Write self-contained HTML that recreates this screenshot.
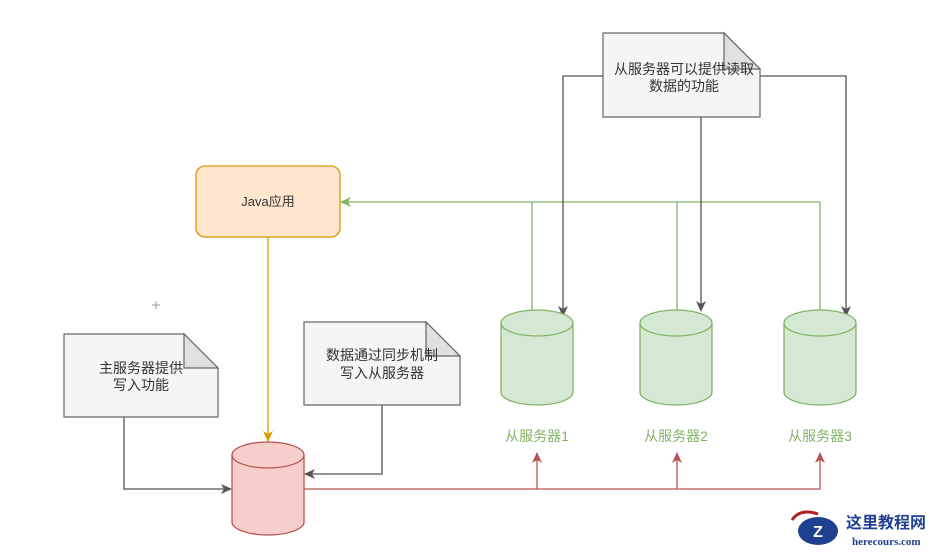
<!DOCTYPE html>
<html><head><meta charset="utf-8"><style>
html,body{margin:0;padding:0;background:#fff;}
svg text{font-family:"Liberation Sans","Noto Sans CJK SC",sans-serif;font-size:14px;}
</style></head><body>
<svg width="936" height="552" viewBox="0 0 936 552" xmlns="http://www.w3.org/2000/svg">
<defs>
<marker id="ag" markerWidth="12" markerHeight="12" refX="10" refY="6" orient="auto" markerUnits="userSpaceOnUse"><path d="M0,1 L11,6 L0,11 L3,6 Z" fill="#82b366"/></marker>
<marker id="ao" markerWidth="12" markerHeight="12" refX="10" refY="6" orient="auto" markerUnits="userSpaceOnUse"><path d="M0,1 L11,6 L0,11 L3,6 Z" fill="#d79b00"/></marker>
<marker id="ar" markerWidth="12" markerHeight="12" refX="10" refY="6" orient="auto" markerUnits="userSpaceOnUse"><path d="M0,1 L11,6 L0,11 L3,6 Z" fill="#b85450"/></marker>
<marker id="ak" markerWidth="12" markerHeight="12" refX="10" refY="6" orient="auto" markerUnits="userSpaceOnUse"><path d="M0,1 L11,6 L0,11 L3,6 Z" fill="#555"/></marker>
</defs>
<path d="M152,305 h8 M156,301 v8" stroke="#999" stroke-width="1"/>
<g fill="none" stroke="#82b366" stroke-width="1.3">
<path d="M532,310 V202 M677,310 V202 M820,310 V202 H341" marker-end="url(#ag)"/>
</g>
<g fill="none" stroke="#555" stroke-width="1.3">
<path d="M603,76 H563 V316" marker-end="url(#ak)"/>
<path d="M701,117 V311" marker-end="url(#ak)"/>
<path d="M760,76 H846 V316" marker-end="url(#ak)"/>
<path d="M124,417 V489 H231" marker-end="url(#ak)"/>
<path d="M382,405 V474 H305" marker-end="url(#ak)"/>
</g>
<path d="M268,237 V441" fill="none" stroke="#d79b00" stroke-width="1.3" marker-end="url(#ao)"/>
<g fill="none" stroke="#b85450" stroke-width="1.3">
<path d="M304,489 H820 V453" marker-end="url(#ar)"/>
<path d="M537,489 V453" marker-end="url(#ar)"/>
<path d="M677,489 V453" marker-end="url(#ar)"/>
</g>
<rect x="196" y="166" width="144" height="71" rx="9" fill="#ffe6cc" stroke="#d79b00" stroke-width="1.3"/>
<text x="268" y="206" text-anchor="middle" fill="#333" style="font-size:13px">Java应用</text>
<g stroke="#666" stroke-width="1.2">
<path d="M64,334 H184 L218,368 V417 H64 Z" fill="#f5f5f5"/>
<path d="M184,334 V368 H218 Z" fill="#e0e0e0"/>
<path d="M304,322 H426 L460,356 V405 H304 Z" fill="#f5f5f5"/>
<path d="M426,322 V356 H460 Z" fill="#e0e0e0"/>
<path d="M603,33 H724 L760,69 V117 H603 Z" fill="#f5f5f5"/>
<path d="M724,33 V69 H760 Z" fill="#e0e0e0"/>
</g>
<g fill="#333" text-anchor="middle">
<text x="141" y="373">主服务器提供</text><text x="141" y="390">写入功能</text>
<text x="382" y="360">数据通过同步机制</text><text x="382" y="378">写入从服务器</text>
<text x="684" y="74">从服务器可以提供读取</text><text x="684" y="91">数据的功能</text>
</g>
<g stroke="#b85450" stroke-width="1.3" fill="#f8cecc">
<path d="M232,455 V522 A36,13 0 0 0 304,522 V455"/>
<ellipse cx="268" cy="455" rx="36" ry="13"/>
</g>
<g stroke="#82b366" stroke-width="1.3" fill="#d5e8d4">
<path d="M501,323 V392 A36,13 0 0 0 573,392 V323"/><ellipse cx="537" cy="323" rx="36" ry="13"/>
<path d="M640,323 V392 A36,13 0 0 0 712,392 V323"/><ellipse cx="676" cy="323" rx="36" ry="13"/>
<path d="M784,323 V392 A36,13 0 0 0 856,392 V323"/><ellipse cx="820" cy="323" rx="36" ry="13"/>
</g>
<g fill="#82b366" text-anchor="middle">
<text x="537" y="441">从服务器1</text><text x="676" y="441">从服务器2</text><text x="820" y="441">从服务器3</text>
</g>
<ellipse cx="818" cy="531" rx="20" ry="14" fill="#1f3f8f"/>
<path d="M792,520 Q800,508 818,514" fill="none" stroke="#b02020" stroke-width="3"/>
<text x="818" y="537" text-anchor="middle" fill="#fff" style="font-size:16px;font-weight:bold">Z</text>
<text x="846" y="528" fill="#1f3f8f" style="font-size:16px;font-weight:bold">这里教程网</text>
<text x="852" y="545" fill="#1f3f8f" style="font-size:11px;font-weight:bold;font-family:'Liberation Serif',serif">herecours.com</text>
</svg>
</body></html>
